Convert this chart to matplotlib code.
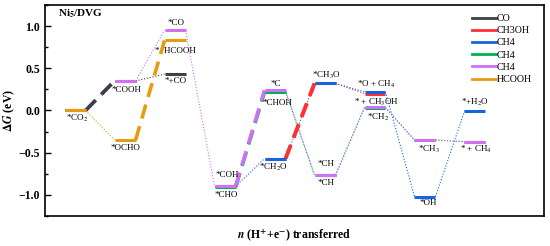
import matplotlib
matplotlib.use("Agg")
import matplotlib.pyplot as plt
from matplotlib.ticker import MultipleLocator
from matplotlib.lines import Line2D

plt.rcParams['font.family'] = ['Liberation Serif', 'DejaVu Serif']
plt.rcParams['mathtext.fontset'] = 'stix'

# ---- data ----
co_steps = [0, 1, 2]
co_energy = [0.0, 0.35, 0.43]
co_conn = ['dash', 'dot']

hcooh_steps = [0, 1, 2]
hcooh_energy = [0.0, -0.35, 0.83]
hcooh_conn = ['dot', 'dash']

ch4g_steps = [3, 4, 5, 6, 7, 8]
ch4g_energy = [-0.91, 0.22, -0.77, 0.03, -0.35, -0.37]
ch4g_conn = ['dash', 'dot', 'dot', 'dot', 'dot']

ch4v_steps = [0, 1, 2, 3, 4, 5, 6, 7, 8]
ch4v_energy = [0.0, 0.35, 0.95, -0.90, 0.24, -0.76, 0.04, -0.35, -0.37]
ch4v_conn = ['dash', 'dot', 'dot', 'dash', 'dot', 'dot', 'dot', 'dot']

ch4b_steps = [3, 4, 5, 6, 7, 8]
ch4b_energy = [-0.90, -0.57, 0.32, 0.22, -1.02, -0.01]
ch4b_conn = ['dot', 'dot', 'dot', 'dot', 'dot']

ch3oh_steps = [4, 5, 6]
ch3oh_energy = [-0.57, 0.32, 0.20]
ch3oh_conn = ['dash', 'dot']

labels = [
    ("*CO$_2$", 0.04, -0.10), ("*COOH", 1.02, 0.245), ("*OCHO", 1.0, -0.44),
    ("*CO", 2.02, 1.04), ("*  HCOOH", 2.0, 0.71), ("*+CO", 2.02, 0.35),
    ("*COH", 3.04, -0.76), ("*CHO", 3.02, -1.0), ("*C", 4.02, 0.31),
    ("*CHOH", 4.04, 0.09), ("*CH$_2$O", 3.96, -0.67), ("*CH$_3$O", 5.02, 0.42),
    ("*CH", 5.02, -0.64), ("*CH", 5.02, -0.86), ("*O + CH$_4$", 6.02, 0.31),
    ("* + CH$_3$OH", 6.02, 0.09), ("*CH$_2$", 6.06, -0.08), ("*CH$_3$", 7.08, -0.46),
    ("* + CH$_4$", 8.02, -0.46), ("*OH", 7.06, -1.1), ("*+H$_2$O", 8.0, 0.09),
]

HW = 0.21

fig = plt.figure(figsize=(5.5, 2.46), dpi=100)
ax = fig.add_axes([0.082, 0.122, 0.907, 0.858])


def draw_path(steps, energy, conn, color, z, seg_z):
    for i in range(len(steps) - 1):
        x0 = steps[i] + HW
        x1 = steps[i + 1] - HW
        if conn[i] == 'dash':
            ax.plot([x0, x1], [energy[i], energy[i + 1]], color=color,
                    lw=2.6, ls=(0, (4, 2.2)), zorder=z + 10)
        else:
            ax.plot([x0, x1], [energy[i], energy[i + 1]], color=color,
                    lw=0.8, ls=(0, (1, 1.6)), zorder=z)
    for s, e in zip(steps, energy):
        ax.plot([s - HW, s + HW], [e, e], color=color, lw=2.2,
                solid_capstyle='butt', zorder=seg_z)


c_co = '#404040'
c_red = '#ff3030'
c_blue = '#1565e0'
c_green = '#00b050'
c_violet = '#d070f5'
c_orange = '#e59c10'

draw_path(co_steps, co_energy, co_conn, c_co, 7, 20)
draw_path(ch3oh_steps, ch3oh_energy, ch3oh_conn, c_red, 2, 21)
draw_path(ch4b_steps, ch4b_energy, ch4b_conn, c_blue, 3, 22)
draw_path(ch4g_steps, ch4g_energy, ch4g_conn, c_green, 4, 23)
draw_path(ch4v_steps, ch4v_energy, ch4v_conn, c_violet, 5, 24)
draw_path(hcooh_steps, hcooh_energy, hcooh_conn, c_orange, 6, 25)
# red dashed on top for CH2O->CH3O
ax.plot([ch3oh_steps[0] + HW, ch3oh_steps[1] - HW], ch3oh_energy[:2], color=c_red,
        lw=2.6, ls=(0, (4, 2.2)), zorder=19)

for t, x, y in labels:
    ax.text(x, y, t, fontsize=6.5, ha='center', va='center', zorder=30)

ax.text(-0.35, 1.14, "Ni$_\\mathbf{5}$/DVG", fontsize=8, fontweight='bold',
        ha='left', va='center')

ax.set_xlim(-0.6, 9.38)
ax.set_ylim(-1.25, 1.25)
ax.set_xticks([])
ax.yaxis.set_major_locator(MultipleLocator(0.5))
ax.yaxis.set_minor_locator(MultipleLocator(0.25))
ax.tick_params(axis='y', which='both', direction='in', labelsize=8.5, width=1)
ax.tick_params(axis='y', which='major', length=4)
ax.tick_params(axis='y', which='minor', length=2.5)
ax.set_yticks([-1.0, -0.5, 0.0, 0.5, 1.0])
ax.set_yticklabels(['\u22121.0', '\u22120.5', '0.0', '0.5', '1.0'], fontweight='bold')
for sp in ax.spines.values():
    sp.set_linewidth(1.2)

ax.set_ylabel(r'$\mathbf{\Delta}\mathbfit{G}$ (eV)', fontsize=8.5, fontweight='bold', labelpad=1)
ax.set_xlabel(r'$\mathbfit{n}$ (H$^{\mathbf{+}}$+e$^{\mathbf{-}}$) transferred', fontsize=8.5,
              fontweight='bold', labelpad=9)

handles = [Line2D([], [], color=c, lw=2.0) for c in
           [c_co, c_red, c_blue, c_green, c_violet, c_orange]]
names = ['CO', 'CH3OH', 'CH4', 'CH4', 'CH4', 'HCOOH']
ax.legend(handles, names, loc='upper right', bbox_to_anchor=(0.99, 0.99), frameon=False,
          fontsize=7.2, handlelength=2.4, handletextpad=0.1, labelspacing=0.32,
          borderaxespad=0.3)

fig.savefig('out.png', dpi=100)
